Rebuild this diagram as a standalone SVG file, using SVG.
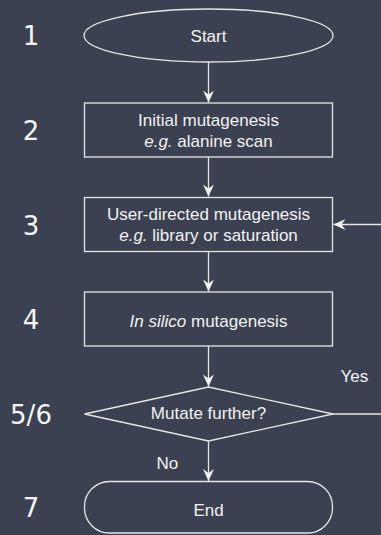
<svg xmlns="http://www.w3.org/2000/svg" width="381" height="535" viewBox="0 0 381 535">
<style>
.shape{fill:none;stroke:#e6e6e6;stroke-width:1.3}
.conn{fill:none;stroke:#e6e6e6;stroke-width:1.3}
.lbl{font-family:"Liberation Sans",Arial,sans-serif;font-size:17px;fill:#f2f2f2;text-anchor:middle}
.edge{font-family:"Liberation Sans",Arial,sans-serif;font-size:17px;fill:#f2f2f2}
.num{font-family:"DejaVu Sans",sans-serif;font-size:26px;fill:#f5f5f5;text-anchor:middle}
.it{font-style:italic}
</style>
<defs>
<marker id="arr" markerUnits="userSpaceOnUse" markerWidth="14" markerHeight="14" viewBox="-13 -7 14 14" refX="0" refY="0" orient="auto">
<path d="M0,0 L-12,-5.5 L-8,0 L-12,5.5 Z" fill="#f2f2f2"/>
</marker>
</defs>
<rect width="381" height="535" fill="#3b4151"/>
<g id="connectors">
<path class="conn" d="M208.5,62 V102.5" marker-end="url(#arr)"/>
<path class="conn" d="M208.5,157 V196.5" marker-end="url(#arr)"/>
<path class="conn" d="M208.5,252 V291.5" marker-end="url(#arr)"/>
<path class="conn" d="M208.5,346 V386.5" marker-end="url(#arr)"/>
<path class="conn" d="M208.5,441 V481" marker-end="url(#arr)"/>
<path class="conn" d="M333,414 H395 V224.5 H333.5" marker-end="url(#arr)"/>
<text class="edge" x="340.5" y="381.5">Yes</text>
<text class="edge" x="156.5" y="469">No</text>
</g>
<g id="steps">
<text class="num" x="31" y="45">1</text>
<text class="num" x="31" y="140">2</text>
<text class="num" x="31" y="234.5">3</text>
<text class="num" x="31" y="329">4</text>
<text class="num" x="31" y="423.5">5/6</text>
<text class="num" x="31" y="517">7</text>
</g>
<g id="start">
<ellipse class="shape" cx="208.5" cy="35.5" rx="124.5" ry="26.5"/>
<text class="lbl" x="208.5" y="41.5">Start</text>
</g>
<g id="initial">
<rect class="shape" x="84.5" y="103" width="248" height="54"/>
<text class="lbl" x="208.5" y="125.5">Initial mutagenesis</text>
<text class="lbl" x="208.5" y="146.5"><tspan class="it">e.g.</tspan> alanine scan</text>
</g>
<g id="userdirected">
<rect class="shape" x="84.5" y="197.5" width="248" height="54"/>
<text class="lbl" x="208.5" y="219.5">User-directed mutagenesis</text>
<text class="lbl" x="208.5" y="241"><tspan class="it">e.g.</tspan> library or saturation</text>
</g>
<g id="insilico">
<rect class="shape" x="84.5" y="292" width="248" height="54"/>
<text class="lbl" x="208.5" y="326.5"><tspan class="it">In silico</tspan> mutagenesis</text>
</g>
<g id="decision">
<polygon class="shape" points="208.5,387 333,414 208.5,441 84.5,414"/>
<text class="lbl" x="208.5" y="419">Mutate further?</text>
</g>
<g id="end">
<rect class="shape" x="84.5" y="481.5" width="248" height="51.5" rx="25" ry="25"/>
<text class="lbl" x="208.5" y="515.5">End</text>
</g>
</svg>
